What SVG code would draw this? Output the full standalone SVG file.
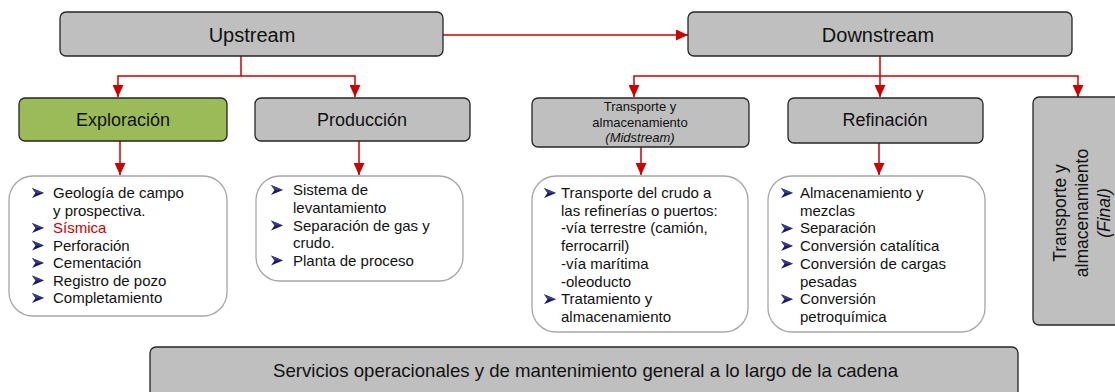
<svg xmlns="http://www.w3.org/2000/svg" width="1115" height="392" viewBox="0 0 1115 392">
<defs>
<marker id="ah" viewBox="0 0 12 11" refX="12" refY="5.5" markerWidth="12" markerHeight="11" markerUnits="userSpaceOnUse" orient="auto">
<path d="M0,0 L12,5.5 L0,11 Z" fill="#CC0000"/>
</marker>
<g id="bul">
<path d="M0,-5 L12,0 L0,5 L3.5,0 Z" fill="#1a1a5c"/>
<path d="M0,-5 L12,0 L3.5,0 Z" fill="#3a3a8c"/>
</g>
<style>
.hdr{fill:#BFBFBF;stroke:#262626;stroke-width:1.3}
.grn{fill:#9BBB59;stroke:#262626;stroke-width:1.3}
.lst{fill:#FFFFFF;stroke:#A6A6A6;stroke-width:1.3}
.con{fill:none;stroke:#CC0000;stroke-width:1.5}
.t{font-family:"Liberation Sans",Arial,sans-serif;fill:#111}
.h20{font-size:20px}
.h18{font-size:18px}
.h13{font-size:13px}
.l{font-size:15px}
.red{fill:#CC0000}
</style>
</defs>
<rect width="1115" height="392" fill="#FFFFFF"/>

<g id="connectors">
<path class="con" d="M443,35 H688" marker-end="url(#ah)"/>
<path class="con" d="M241,56 V76 H118 V97" marker-end="url(#ah)"/>
<path class="con" d="M241,76 H355 V97" marker-end="url(#ah)"/>
<path class="con" d="M120,141 V175" marker-end="url(#ah)"/>
<path class="con" d="M359,141 V175" marker-end="url(#ah)"/>
<path class="con" d="M880,56 V97" marker-end="url(#ah)"/>
<path class="con" d="M880,76 H634 V97" marker-end="url(#ah)"/>
<path class="con" d="M880,76 H1078 V97" marker-end="url(#ah)"/>
<path class="con" d="M641,147 V175" marker-end="url(#ah)"/>
<path class="con" d="M879,143 V175" marker-end="url(#ah)"/>
</g>

<g id="upstream">
<rect class="hdr" x="60" y="12" width="383" height="44" rx="6"/>
<text class="t h20" x="252" y="42" text-anchor="middle">Upstream</text>
</g>
<g id="downstream">
<rect class="hdr" x="688" y="12" width="384" height="44" rx="6"/>
<text class="t h20" x="878" y="42" text-anchor="middle">Downstream</text>
</g>

<g id="exploracion">
<rect class="grn" x="19" y="98" width="208" height="43" rx="6"/>
<text class="t h18" x="123" y="126" text-anchor="middle">Exploración</text>
</g>
<g id="produccion">
<rect class="hdr" x="255" y="98" width="215" height="43" rx="6"/>
<text class="t h18" x="362" y="126" text-anchor="middle">Producción</text>
</g>
<g id="midstream">
<rect class="hdr" x="532" y="98" width="217" height="49" rx="6"/>
<text class="t h13" x="640" y="111" text-anchor="middle">Transporte y</text>
<text class="t h13" x="640" y="126.5" text-anchor="middle">almacenamiento</text>
<text class="t h13" x="640" y="142" text-anchor="middle" font-style="italic">(Midstream)</text>
</g>
<g id="refinacion">
<rect class="hdr" x="788" y="98" width="195" height="45" rx="6"/>
<text class="t h18" x="885" y="126" text-anchor="middle">Refinación</text>
</g>
<g id="final">
<rect class="hdr" x="1033" y="97" width="110" height="228" rx="6"/>
<g transform="translate(1082,213) rotate(-90)">
<text class="t" font-size="17.5" x="0" y="-16" text-anchor="middle">Transporte y</text>
<text class="t" font-size="17.5" x="0" y="6" text-anchor="middle">almacenamiento</text>
<text class="t" font-size="17.5" x="0" y="28" text-anchor="middle" font-style="italic">(Final)</text>
</g>
</g>

<g id="exploracion-list">
<rect class="lst" x="9" y="176" width="218" height="140" rx="24"/>
<use href="#bul" x="32" y="193"/>
<text class="t l" x="53" y="198">Geología de campo</text>
<text class="t l" x="53" y="215.5">y prospectiva.</text>
<use href="#bul" x="32" y="228"/>
<text class="t l red" x="53" y="233">Sísmica</text>
<use href="#bul" x="32" y="245.5"/>
<text class="t l" x="53" y="250.5">Perforación</text>
<use href="#bul" x="32" y="263"/>
<text class="t l" x="53" y="268">Cementación</text>
<use href="#bul" x="32" y="280.5"/>
<text class="t l" x="53" y="285.5">Registro de pozo</text>
<use href="#bul" x="32" y="298"/>
<text class="t l" x="53" y="303">Completamiento</text>
</g>

<g id="produccion-list">
<rect class="lst" x="256" y="176" width="207" height="105" rx="24"/>
<use href="#bul" x="271" y="190"/>
<text class="t l" x="293" y="195">Sistema de</text>
<text class="t l" x="293" y="213">levantamiento</text>
<use href="#bul" x="271" y="225.5"/>
<text class="t l" x="293" y="230.5">Separación de gas y</text>
<text class="t l" x="293" y="248">crudo.</text>
<use href="#bul" x="271" y="260.5"/>
<text class="t l" x="293" y="265.5">Planta de proceso</text>
</g>

<g id="midstream-list">
<rect class="lst" x="532" y="176" width="216" height="156" rx="24"/>
<use href="#bul" x="544" y="193"/>
<text class="t l" x="561" y="198">Transporte del crudo a</text>
<text class="t l" x="561" y="215.7">las refinerías o puertos:</text>
<text class="t l" x="561" y="233.4">-vía terrestre (camión,</text>
<text class="t l" x="561" y="251.1">ferrocarril)</text>
<text class="t l" x="561" y="268.8">-vía marítima</text>
<text class="t l" x="561" y="286.5">-oleoducto</text>
<use href="#bul" x="544" y="299.2"/>
<text class="t l" x="561" y="304.2">Tratamiento y</text>
<text class="t l" x="561" y="321.9">almacenamiento</text>
</g>

<g id="refinacion-list">
<rect class="lst" x="768" y="176" width="217" height="156" rx="24"/>
<use href="#bul" x="781" y="193"/>
<text class="t l" x="800" y="198">Almacenamiento y</text>
<text class="t l" x="800" y="215.7">mezclas</text>
<use href="#bul" x="781" y="228.4"/>
<text class="t l" x="800" y="233.4">Separación</text>
<use href="#bul" x="781" y="246.1"/>
<text class="t l" x="800" y="251.1">Conversión catalítica</text>
<use href="#bul" x="781" y="263.8"/>
<text class="t l" x="800" y="268.8">Conversión de cargas</text>
<text class="t l" x="800" y="286.5">pesadas</text>
<use href="#bul" x="781" y="299.2"/>
<text class="t l" x="800" y="304.2">Conversión</text>
<text class="t l" x="800" y="321.9">petroquímica</text>
</g>

<g id="servicios">
<rect class="hdr" x="150" y="347" width="868" height="60" rx="6"/>
<text class="t" font-size="19" x="585.5" y="377" text-anchor="middle" textLength="625" lengthAdjust="spacingAndGlyphs">Servicios operacionales y de mantenimiento general a lo largo de la cadena</text>
</g>
</svg>
